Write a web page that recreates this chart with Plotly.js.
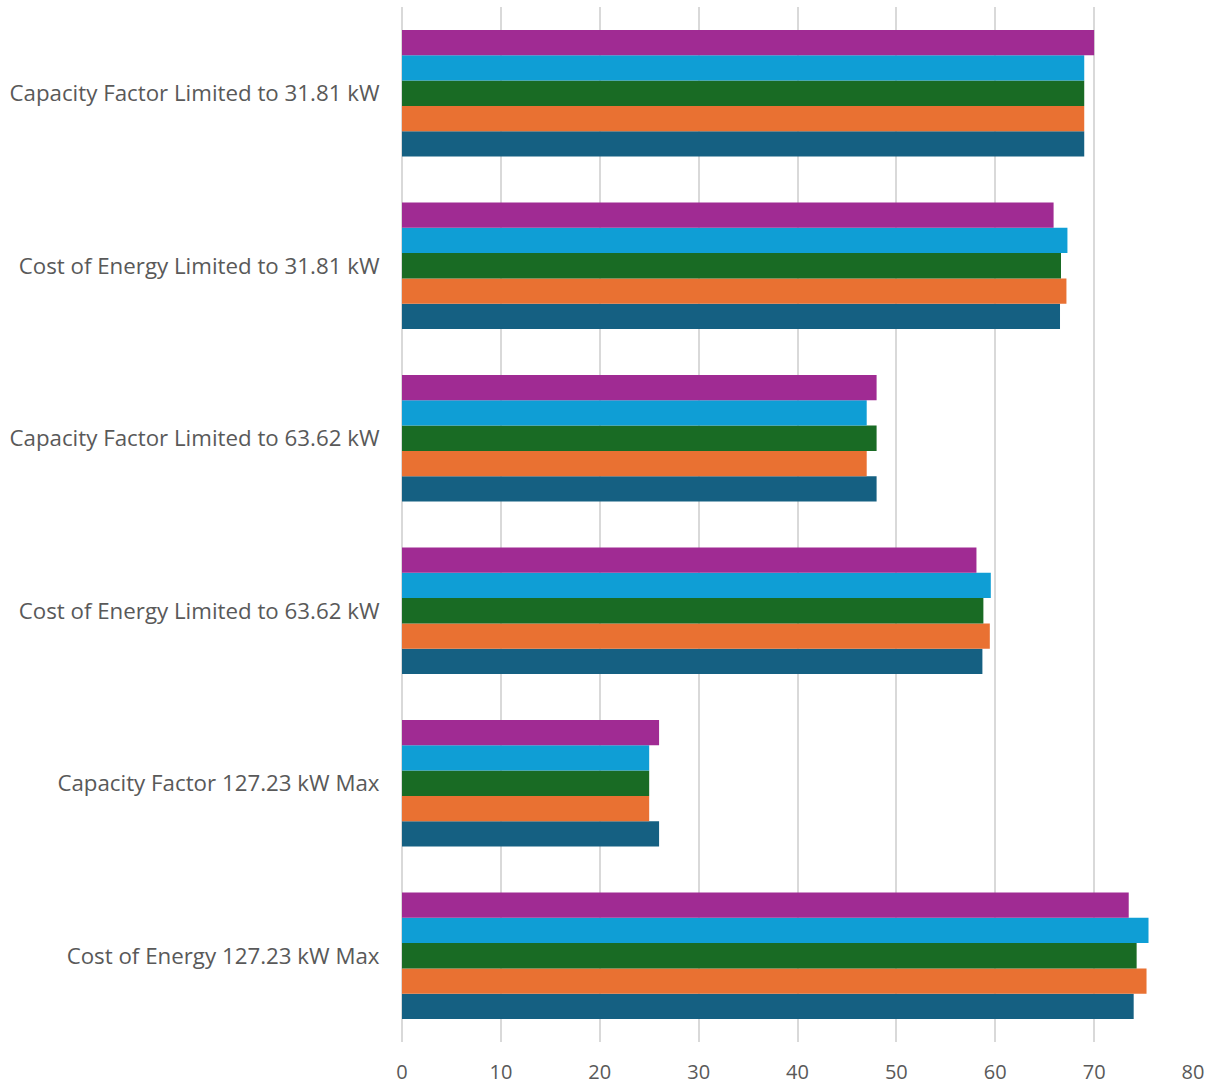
<!DOCTYPE html>
<html>
<head>
<meta charset="utf-8">
<script src="https://cdn.plot.ly/plotly-3.0.1.min.js"></script>
<style>
  html, body { margin: 0; padding: 0; background: #ffffff; }
  #chart { width: 1215px; height: 1084px; }
</style>
</head>
<body>
<div id="chart"></div>
<script>
// Categories listed from the bottom of the chart to the top
const categories = [
  "Cost of Energy 127.23 kW Max",
  "Capacity Factor 127.23 kW Max",
  "Cost of Energy Limited to 63.62 kW",
  "Capacity Factor Limited to 63.62 kW",
  "Cost of Energy Limited to 31.81 kW",
  "Capacity Factor Limited to 31.81 kW"
];

// One array per series, in category order above
const series1 = [74.0, 26, 58.7, 48, 66.55, 69];
const series2 = [75.3, 25, 59.45, 47, 67.2, 69];
const series3 = [74.3, 25, 58.8, 48, 66.65, 69];
const series4 = [75.5, 25, 59.55, 47, 67.3, 69];
const series5 = [73.5, 26, 58.1, 48, 65.9, 70];

const seriesNames = ["Series 1", "Series 2", "Series 3", "Series 4", "Series 5"];
const seriesValues = [series1, series2, series3, series4, series5];
const seriesColors = ["#156082", "#E97132", "#196B24", "#0F9ED5", "#A02B93"];

const xTicks = [0, 10, 20, 30, 40, 50, 60, 70, 80];

const traces = seriesValues.map((vals, i) => ({
  type: "bar",
  orientation: "h",
  name: seriesNames[i],
  y: categories,
  x: vals,
  marker: { color: seriesColors[i], line: { width: 0 } },
  hoverinfo: "x+y+name"
}));

const fontFamily = "Open Sans, Liberation Sans, sans-serif";

const layout = {
  width: 1215,
  height: 1084,
  paper_bgcolor: "#ffffff",
  plot_bgcolor: "#ffffff",
  showlegend: false,
  barmode: "group",
  bargap: 0.267,
  bargroupgap: 0,
  margin: { l: 401.5, r: 21.5, t: 7, b: 42 },
  xaxis: {
    range: [0, 80],
    tickvals: xTicks,
    ticktext: xTicks.map(String),
    showgrid: true,
    gridcolor: "#D9D9D9",
    gridwidth: 2,
    zeroline: true,
    zerolinecolor: "#D9D9D9",
    zerolinewidth: 2,
    showline: false,
    ticks: "outside",
    ticklen: 12,
    tickcolor: "rgba(0,0,0,0)",
    tickfont: { family: fontFamily, size: 20, color: "#595959" },
    fixedrange: true
  },
  yaxis: {
    type: "category",
    categoryorder: "array",
    categoryarray: categories,
    showgrid: false,
    zeroline: false,
    showline: false,
    ticks: "outside",
    ticklen: 17,
    tickcolor: "rgba(0,0,0,0)",
    tickfont: { family: fontFamily, size: 22.3, color: "#595959" },
    fixedrange: true
  }
};

Plotly.newPlot("chart", traces, layout, { displayModeBar: false, staticPlot: true });
</script>
</body>
</html>
